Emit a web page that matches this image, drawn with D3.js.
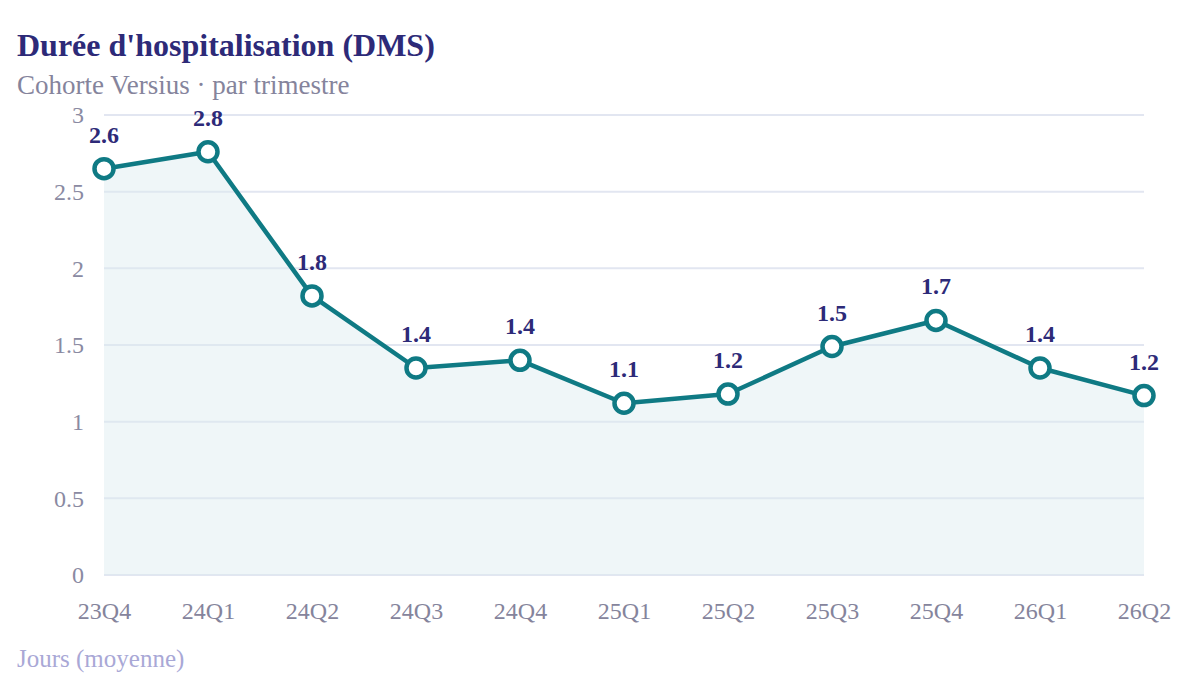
<!DOCTYPE html>
<html>
<head>
<meta charset="utf-8">
<script src="https://cdn.jsdelivr.net/npm/d3@7"></script>
<style>
  html, body { margin: 0; padding: 0; background: #fff; }
  svg { display: block; font-family: "Liberation Serif", "DejaVu Serif", serif; }
</style>
</head>
<body>
<svg id="chart" width="1184" height="680"></svg>
<script>
// data
const quarters = ["23Q4", "24Q1", "24Q2", "24Q3", "24Q4", "25Q1", "25Q2", "25Q3", "25Q4", "26Q1", "26Q2"];
const dmsValues = [2.65, 2.76, 1.82, 1.35, 1.40, 1.12, 1.18, 1.49, 1.66, 1.35, 1.17];
const yTicks = [0, 0.5, 1, 1.5, 2, 2.5, 3];

const svg = d3.select("#chart");
const plotLeft = 104, plotRight = 1144, plotTop = 115, plotBottom = 575;

const x = d3.scalePoint().domain(quarters).range([plotLeft, plotRight]);
const y = d3.scaleLinear().domain([0, 3]).range([plotBottom, plotTop]);

// title
svg.append("text")
    .attr("x", 17).attr("y", 56)
    .attr("font-size", 32).attr("font-weight", "bold")
    .attr("fill", "#2d2a78")
    .text("Durée d'hospitalisation (DMS)");

svg.append("text")
    .attr("x", 17).attr("y", 94)
    .attr("font-size", 27)
    .attr("fill", "#85849c")
    .text("Cohorte Versius · par trimestre");

// grid
svg.append("g")
    .selectAll("line")
    .data(yTicks)
    .join("line")
    .attr("x1", plotLeft).attr("x2", plotRight)
    .attr("y1", d => y(d)).attr("y2", d => y(d))
    .attr("stroke", "#e2e6f1")
    .attr("stroke-width", 2);

// y axis
const yAxis = svg.append("g")
    .attr("transform", `translate(${plotLeft - 20},0)`)
    .call(d3.axisLeft(y).tickValues(yTicks).tickSize(0).tickPadding(0).tickFormat(d3.format("~g")));
yAxis.select(".domain").remove();
yAxis.selectAll("text")
    .attr("font-family", "Liberation Serif, serif")
    .attr("font-size", 24)
    .attr("fill", "#8a8aa2");

// x axis
const xAxis = svg.append("g")
    .attr("transform", `translate(0,${plotBottom + 27})`)
    .call(d3.axisBottom(x).tickSize(0).tickPadding(0));
xAxis.select(".domain").remove();
xAxis.selectAll("text")
    .attr("font-family", "Liberation Serif, serif")
    .attr("font-size", 24)
    .attr("fill", "#85849c");

// area
const area = d3.area()
    .x((d, i) => x(quarters[i]))
    .y0(y(0))
    .y1(d => y(d));

svg.append("path")
    .datum(dmsValues)
    .attr("d", area)
    .attr("fill", "#dcebf0")
    .attr("fill-opacity", 0.45);

// line
const line = d3.line()
    .x((d, i) => x(quarters[i]))
    .y(d => y(d));

svg.append("path")
    .datum(dmsValues)
    .attr("d", line)
    .attr("fill", "none")
    .attr("stroke", "#0f7a84")
    .attr("stroke-width", 4.5)
    .attr("stroke-linejoin", "round");

// points
svg.append("g")
    .selectAll("circle")
    .data(dmsValues)
    .join("circle")
    .attr("cx", (d, i) => x(quarters[i]))
    .attr("cy", d => y(d))
    .attr("r", 9.5)
    .attr("fill", "#fff")
    .attr("stroke", "#0f7a84")
    .attr("stroke-width", 4.5);

// value labels
svg.append("g")
    .selectAll("text")
    .data(dmsValues)
    .join("text")
    .attr("x", (d, i) => x(quarters[i]))
    .attr("y", d => y(d) - 26)
    .attr("text-anchor", "middle")
    .attr("font-size", 24)
    .attr("font-weight", "bold")
    .attr("fill", "#2d2a78")
    .text(d => d3.format(".1f")(d));

// axis title
svg.append("text")
    .attr("x", 17).attr("y", 667)
    .attr("font-size", 25)
    .attr("fill", "#a9a8d6")
    .text("Jours (moyenne)");
</script>
</body>
</html>
